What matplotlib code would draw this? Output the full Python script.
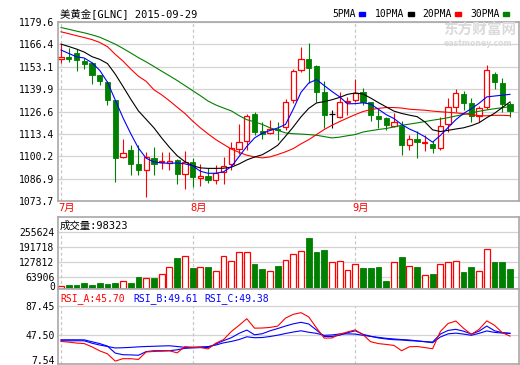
import numpy as np
import matplotlib.pyplot as plt
from matplotlib.patches import Rectangle
from matplotlib.transforms import blended_transform_factory

plt.rcParams['font.family'] = ['DejaVu Sans Mono', 'Noto Sans CJK SC']

# daily candles, 美黄金 GLNC, early Jul .. 2015-09-29
opens = [1157.6, 1159.0, 1161.5, 1156.8, 1155.3, 1148.3, 1144.2, 1133.3, 1100.0, 1103.9,
         1095.5, 1092.0, 1099.2, 1097.0, 1096.3, 1098.1, 1089.9, 1096.5, 1087.4, 1088.5,
         1086.0, 1090.8, 1095.8, 1104.6, 1109.2, 1124.9, 1115.0, 1114.0, 1116.4, 1117.7,
         1133.5, 1151.4, 1157.6, 1153.7, 1138.3, 1125.1, 1123.6, 1132.0, 1133.5, 1138.1,
         1132.5, 1124.1, 1122.6, 1118.1, 1118.3, 1106.6, 1110.1, 1107.8, 1107.4, 1105.1,
         1119.1, 1129.2, 1137.2, 1131.9, 1123.7, 1129.6, 1148.8, 1143.6, 1130.9]
highs = [1166.5, 1164.0, 1163.4, 1158.4, 1155.7, 1148.5, 1144.4, 1133.5, 1110.5, 1106.6,
         1106.6, 1102.5, 1105.7, 1102.5, 1102.5, 1098.5, 1103.5, 1099.2, 1095.3, 1093.0,
         1095.2, 1100.0, 1108.8, 1119.1, 1124.9, 1126.5, 1120.2, 1121.8, 1120.2, 1133.9,
         1152.0, 1165.0, 1166.9, 1154.3, 1144.6, 1127.6, 1138.1, 1135.4, 1145.9, 1140.7,
         1132.5, 1128.4, 1123.2, 1125.7, 1121.0, 1112.5, 1115.0, 1112.9, 1109.4, 1123.2,
         1134.8, 1140.1, 1138.7, 1134.8, 1130.0, 1154.3, 1149.8, 1146.5, 1132.3]
lows = [1155.3, 1156.2, 1150.4, 1152.0, 1143.0, 1142.4, 1130.7, 1085.2, 1098.9, 1089.1,
        1089.1, 1076.1, 1089.3, 1092.5, 1092.2, 1083.9, 1081.0, 1081.7, 1082.7, 1084.3,
        1083.9, 1083.9, 1092.0, 1101.8, 1104.1, 1112.5, 1110.5, 1113.4, 1109.6, 1116.0,
        1131.9, 1149.8, 1143.6, 1132.5, 1117.0, 1116.8, 1122.6, 1124.5, 1132.3, 1130.6,
        1120.8, 1116.8, 1116.0, 1117.7, 1101.2, 1103.7, 1099.2, 1103.1, 1102.3, 1103.7,
        1114.4, 1126.5, 1127.6, 1120.2, 1120.2, 1128.4, 1139.7, 1126.1, 1123.2]
closes = [1158.6, 1158.0, 1157.2, 1154.9, 1148.3, 1144.4, 1133.7, 1098.9, 1102.0, 1095.4,
          1091.9, 1100.0, 1095.4, 1097.4, 1097.5, 1089.9, 1096.7, 1087.8, 1088.5, 1086.0,
          1090.1, 1094.2, 1104.9, 1108.6, 1124.1, 1114.8, 1113.4, 1116.4, 1115.6, 1132.5,
          1150.4, 1157.6, 1152.3, 1138.3, 1124.5, 1125.1, 1132.3, 1133.1, 1137.8, 1132.5,
          1124.5, 1122.2, 1118.9, 1120.6, 1106.6, 1110.1, 1108.9, 1108.4, 1105.1, 1118.3,
          1129.6, 1137.8, 1131.9, 1123.7, 1128.8, 1151.0, 1144.0, 1130.9, 1127.1]
volumes = [23700, 29400, 29400, 36700, 28100, 38000, 33700, 38000, 45300, 38000,
           62600, 58300, 59600, 75600, 105800, 143400, 152000, 101500, 105800, 105800,
           88500, 152000, 131700, 169300, 169300, 118700, 97200, 87200, 110100, 134700,
           160600, 173600, 231000, 170600, 179200, 127400, 130400, 91500, 118700, 101500,
           101500, 105800, 45300, 127400, 149000, 110100, 105800, 70000, 75600, 118700,
           127400, 131700, 84200, 105800, 87200, 182200, 127400, 127400, 98323]

ma5 = [1163.0, 1161.0, 1159.0, 1158.3, 1155.5, 1151.0, 1144.0, 1133.5, 1123.0, 1113.6,
       1105.0, 1099.0, 1096.8, 1096.2, 1096.0, 1096.2, 1095.7, 1094.5, 1091.3, 1090.1,
       1090.1, 1091.0, 1094.0, 1100.0, 1106.0, 1111.0, 1113.8, 1115.4, 1116.9, 1119.0,
       1128.0, 1138.0, 1143.5, 1145.5, 1142.0, 1138.5, 1135.3, 1131.2, 1131.3, 1131.8,
       1131.0, 1128.0, 1124.8, 1122.5, 1119.0, 1116.3, 1114.3, 1111.7, 1108.5, 1112.5,
       1117.2, 1121.8, 1125.5, 1128.3, 1131.5, 1135.3, 1135.8, 1136.3, 1136.8]
ma10 = [1166.5, 1165.1, 1163.6, 1161.8, 1159.1, 1157.5, 1155.0, 1148.8, 1141.5, 1134.0,
        1127.0, 1122.0, 1117.0, 1111.0, 1105.5, 1100.5, 1097.0, 1094.6, 1093.3, 1093.0,
        1093.0, 1093.1, 1093.7, 1095.6, 1098.0, 1099.7, 1101.1, 1103.7, 1106.7, 1112.0,
        1117.5, 1123.5, 1128.5, 1131.7, 1132.5, 1133.6, 1135.0, 1136.8, 1137.6, 1137.0,
        1134.6, 1131.9, 1129.4, 1126.9, 1125.5, 1124.5, 1123.6, 1120.5, 1115.8, 1114.8,
        1115.5, 1116.3, 1117.0, 1118.3, 1120.0, 1123.0, 1125.6, 1129.0, 1132.3]
ma20 = [1173.8, 1172.7, 1171.5, 1170.4, 1169.2, 1167.5, 1165.0, 1160.5, 1156.5, 1151.8,
        1147.5, 1144.5, 1139.5, 1136.5, 1133.0, 1129.2, 1125.5, 1121.0, 1117.0, 1113.4,
        1110.0, 1107.2, 1104.4, 1102.5, 1100.8, 1099.8, 1099.2, 1099.8, 1101.2, 1102.8,
        1104.7, 1107.5, 1110.0, 1113.0, 1116.0, 1118.5, 1120.7, 1122.8, 1124.8, 1126.6,
        1127.8, 1128.5, 1129.0, 1129.0, 1128.7, 1128.0, 1127.7, 1127.4, 1126.9, 1126.5,
        1126.2, 1125.8, 1125.4, 1124.8, 1124.2, 1124.1, 1124.4, 1124.4, 1124.2]
ma30 = [1176.3, 1175.3, 1174.2, 1173.2, 1172.0, 1170.6, 1168.6, 1166.5, 1164.0, 1161.3,
        1158.5, 1156.0, 1153.3, 1150.5, 1147.8, 1145.0, 1142.0, 1139.0, 1136.0, 1132.8,
        1130.5, 1128.7, 1127.0, 1124.2, 1121.8, 1120.5, 1119.0, 1117.0, 1115.5, 1114.0,
        1113.5, 1113.3, 1113.0, 1112.6, 1111.8, 1111.0, 1111.5, 1112.3, 1113.0, 1114.5,
        1115.3, 1116.0, 1116.6, 1117.5, 1118.5, 1119.2, 1119.9, 1120.7, 1121.5, 1122.2,
        1123.0, 1124.0, 1124.9, 1125.8, 1126.8, 1127.6, 1128.3, 1128.9, 1129.5]

rsi_a = [38.4, 37.5, 36.2, 35.5, 31.0, 25.5, 21.5, 11.5, 14.8, 14.8,
         13.8, 24.0, 24.7, 25.0, 25.7, 22.8, 31.3, 30.2, 30.2, 28.2,
         36.0, 41.0, 52.0, 60.5, 69.5, 56.6, 56.8, 57.6, 59.5, 70.4,
         75.5, 77.8, 72.0, 57.0, 43.0, 43.2, 48.4, 51.4, 54.2, 47.8,
         38.0, 35.5, 34.3, 33.0, 25.7, 31.1, 31.5, 30.0, 28.4, 52.0,
         63.0, 66.4, 56.4, 48.0, 55.0, 66.6, 60.5, 50.5, 45.70]
rsi_b = [40.7, 40.7, 40.7, 40.6, 38.0, 35.5, 32.0, 22.5, 20.2, 20.0,
         19.5, 24.5, 25.7, 25.7, 25.7, 27.0, 29.0, 29.5, 30.0, 30.2,
         35.0, 39.5, 43.5, 49.5, 54.0, 47.5, 49.0, 53.0, 56.1, 59.5,
         62.5, 64.6, 62.3, 54.0, 45.2, 45.2, 47.0, 50.3, 53.0, 48.2,
         45.5, 43.2, 41.8, 40.8, 40.4, 39.5, 39.0, 38.2, 37.6, 48.5,
         53.5, 55.0, 52.5, 48.5, 52.5, 59.5, 53.0, 50.5, 49.61]
rsi_c = [39.3, 39.3, 39.3, 39.3, 36.0, 33.5, 31.5, 29.5, 29.8, 30.3,
         31.0, 31.5, 31.8, 32.2, 32.5, 31.5, 30.3, 30.5, 31.0, 31.4,
         33.5, 36.5, 38.4, 41.0, 44.8, 43.5, 43.8, 45.2, 47.0, 49.3,
         51.3, 53.0, 51.0, 49.5, 46.8, 47.3, 48.6, 48.8, 48.5, 46.8,
         45.3, 44.0, 42.7, 41.8, 41.0, 40.4, 39.2, 38.0, 36.7, 44.5,
         48.8, 49.8, 48.5, 46.8, 49.5, 52.8, 50.8, 49.9, 49.38]

month_labels = ['7月', '8月', '9月']
month_idx = [0, 17, 38]
price_ticks = [1073.7, 1086.9, 1100.2, 1113.4, 1126.6, 1139.9, 1153.1, 1166.4, 1179.6]
vol_ticks = [0, 63906, 127812, 191718, 255624]
rsi_ticks = [7.54, 47.50, 87.45]

RED = '#ff0000'
GREEN = '#008000'
BLUE = '#0000ff'
GRID = '#d4d4d4'
EDGE = '#a8a8a8'
DASH = '#c8c8c8'

W, H = 520.0, 365.0


def box(top, bottom):
    return [58 / W, 1 - bottom / H, 461 / W, (bottom - top) / H]


def px(x, y):
    return x / W, 1 - y / H


fig = plt.figure(figsize=(5.2, 3.65), dpi=100)
ax = fig.add_axes(box(22, 201))
axv = fig.add_axes(box(217, 289))
axr = fig.add_axes(box(289, 364))

x = np.arange(len(closes))
o, h, l, c = (np.array(a) for a in (opens, highs, lows, closes))
up = c > o
dn = c < o
flat = c == o
w = 0.68

# candles
ax.vlines(x[dn], l[dn], h[dn], color=GREEN, lw=0.8, zorder=2)
ax.bar(x[dn], (o - c)[dn], bottom=c[dn], width=w, color=GREEN, edgecolor=GREEN, lw=0.6, zorder=2)
ax.vlines(x[up], c[up], h[up], color=RED, lw=0.8, zorder=2)
ax.vlines(x[up], l[up], o[up], color=RED, lw=0.8, zorder=2)
ax.bar(x[up], (c - o)[up], bottom=o[up], width=w, facecolor='white', edgecolor=RED, lw=0.9, zorder=2)
ax.vlines(x[flat], l[flat], h[flat], color='black', lw=0.8, zorder=2)
ax.hlines(c[flat], x[flat] - w / 2, x[flat] + w / 2, color='black', lw=0.9, zorder=2)

ax.plot(x, ma30, color=GREEN, lw=0.8, zorder=3)
ax.plot(x, ma20, color=RED, lw=0.8, zorder=3)
ax.plot(x, ma10, color='black', lw=0.8, zorder=3)
ax.plot(x, ma5, color=BLUE, lw=0.8, zorder=3)

# volume
v = np.array(volumes)
vup = c >= o
axv.bar(x[~vup], v[~vup], width=0.75, color=GREEN, edgecolor=GREEN, lw=0.6, zorder=2)
axv.bar(x[vup], v[vup], width=0.75, facecolor='white', edgecolor=RED, lw=0.9, zorder=2)

# rsi
axr.plot(x, rsi_c, color=BLUE, lw=0.8, zorder=3)
axr.plot(x, rsi_b, color=BLUE, lw=0.8, zorder=3)
axr.plot(x, rsi_a, color=RED, lw=0.8, zorder=3)

vol_floor = 10800
ax.set_ylim(price_ticks[0], price_ticks[-1])
axv.set_ylim(vol_floor, 321700)
axr.set_ylim(rsi_ticks[0], 110.2)

ax.set_yticks(price_ticks)
ax.set_yticklabels(['%.1f' % t for t in price_ticks])
axv.set_yticks(vol_ticks[1:])
axv.set_yticklabels([str(t) for t in vol_ticks[1:]])
axr.set_yticks(rsi_ticks)
axr.set_yticklabels(['%.2f' % t for t in rsi_ticks])
axr.get_yticklabels()[0].set_va('baseline')
# the zero label sits on the floor of the volume box
fig.text(*px(55.5, 290.5), str(vol_ticks[0]), fontsize=7, ha='right', va='baseline')

tops = {ax: price_ticks[-1], axv: vol_ticks[-1], axr: rsi_ticks[-1]}
bots = {ax: price_ticks[0], axv: vol_floor, axr: rsi_ticks[0]}
for a in (ax, axv, axr):
    a.set_xlim(-0.39, 59.16)
    a.set_xticks([])
    a.tick_params(axis='y', length=0, pad=2.5, labelsize=7, labelcolor='black')
    a.yaxis.grid(True, color=GRID, lw=0.9)
    a.set_axisbelow(True)
    for s in a.spines.values():
        s.set_color(EDGE)
        s.set_linewidth(1.2)
    a.vlines(month_idx, bots[a], tops[a], color=DASH, lw=0.9, linestyles=(0, (2.5, 2)), zorder=1)

# month labels
tr = blended_transform_factory(ax.transData, fig.transFigure)
for m, lab in zip(month_idx, month_labels):
    ax.text(m - 0.35, 1 - 208 / H, lab, transform=tr, color=RED, fontsize=7.5,
            ha='left', va='center')

# header texts
fig.text(*px(60, 14), '美黄金[GLNC] 2015-09-29', fontsize=7.5, ha='left', va='center')
legend = [('5PMA', BLUE, 332), ('10PMA', 'black', 375), ('20PMA', RED, 422), ('30PMA', GREEN, 470)]
for name, col, lx in legend:
    fig.text(*px(lx, 14), name, fontsize=7, ha='left', va='center')
    rx = lx + len(name) * 5.9 + 3
    fig.patches.append(Rectangle(px(rx, 16), 6 / W, 3.5 / H, transform=fig.transFigure,
                                 color=col, zorder=5))

fig.text(*px(443, 30), '东方财富网', fontsize=10.5, weight='bold', color='#dadada',
         family=['Noto Sans CJK SC'], ha='left', va='center', zorder=0)
fig.text(*px(444, 43), 'eastmoney.com', fontsize=5.6, weight='bold', color='#dadada',
         family=['DejaVu Sans'], ha='left', va='center', zorder=0)

fig.text(*px(60, 226), '成交量:98323', fontsize=7.5, ha='left', va='center')
fig.text(*px(60, 299), 'RSI_A:45.70', fontsize=7, color=RED, ha='left', va='center')
fig.text(*px(133, 299), 'RSI_B:49.61', fontsize=7, color=BLUE, ha='left', va='center')
fig.text(*px(204, 299), 'RSI_C:49.38', fontsize=7, color=BLUE, ha='left', va='center')

fig.savefig('out.png', dpi=100)
